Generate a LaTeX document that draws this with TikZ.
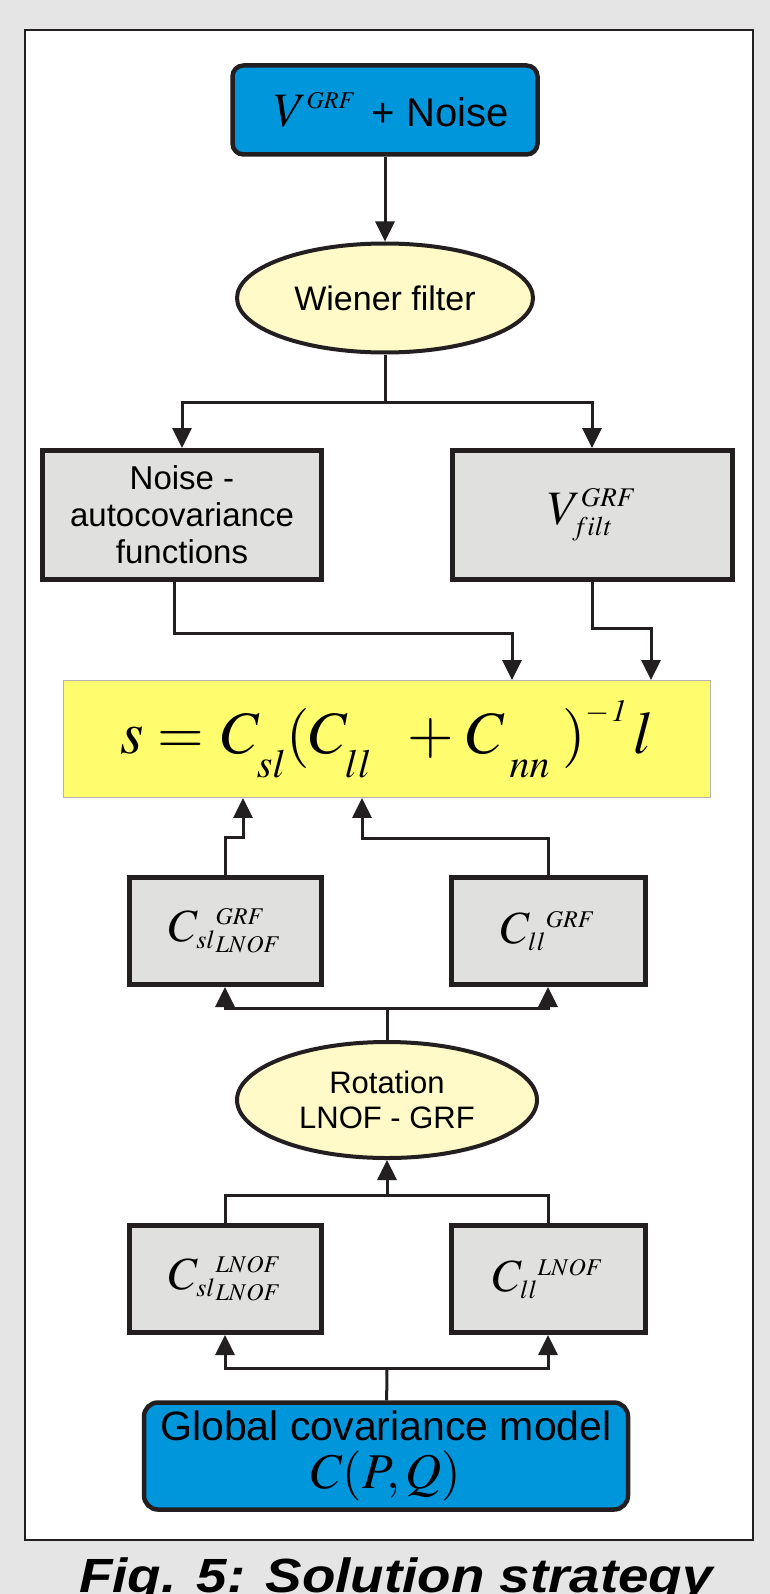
\documentclass[tikz,border=0pt]{standalone}
\usepackage{mathptmx}
\usepackage[no-math]{fontspec}
\setmainfont{Liberation Sans}
\usetikzlibrary{shapes.geometric,arrows.meta}

\definecolor{bggray}{RGB}{229,229,229}
\definecolor{boxblue}{RGB}{0,150,219}
\definecolor{ovalyellow}{RGB}{255,250,200}
\definecolor{boxgray}{RGB}{224,224,222}
\definecolor{eqyellow}{RGB}{255,253,110}
\definecolor{ink}{RGB}{35,31,32}

\newcommand{\fsz}[2]{\mbox{\fontsize{#1}{#1}\selectfont$#2$}}
\newcommand{\lowsub}[1]{\raisebox{-15pt}{\fsz{40}{#1}}}

\begin{document}
\begin{tikzpicture}[x=1pt,y=-1pt,
  inout/.style={draw=ink,line width=4.5pt,fill=boxblue,rounded corners=11pt,inner sep=0pt},
  oval/.style={ellipse,draw=ink,line width=4pt,fill=ovalyellow,inner sep=0pt,align=center},
  gbox/.style={draw=ink,line width=5pt,fill=boxgray,inner sep=0pt,minimum width=192pt,minimum height=107pt},
  link/.style={draw=ink,line width=3pt},
  >={Triangle[length=20pt,width=19pt]}]
\fill[bggray] (0,0) rectangle (770,1594);
\useasboundingbox (0,0) rectangle (770,1594);
\draw[ink,line width=2.5pt,fill=white] (25,30) rectangle (753,1540);

% top
\node[inout,minimum width=305pt,minimum height=89pt] (v_noise) at (385,110)
  {\hspace{12pt}{\fontsize{48}{48}\selectfont$V^{\fsz{24}{GRF}}$}\hspace{16pt}{\fontsize{40}{40}\selectfont + Noise}};
\node[oval,minimum width=296pt,minimum height=109pt,font=\fontsize{34}{34}\selectfont] (wiener) at (385,298) {Wiener filter};
\node[gbox,minimum width=279pt,minimum height=129pt,align=center,font=\fontsize{33}{37}\selectfont] (noise_acf) at (182,515)
  {Noise -\\autocovariance\\functions};
\node[gbox,minimum width=280pt,minimum height=129pt] (v_filt) at (592,515)
  {\fontsize{48}{48}\selectfont$V^{\fsz{27}{GRF}}_{\fsz{27}{filt}}$};
\node[draw=black!30,line width=0.8pt,fill=eqyellow,minimum width=647pt,minimum height=117pt,inner sep=0pt] (sol) at (387,739)
  {\fontsize{60}{60}\selectfont$s=\kern4pt C_{\lowsub{sl}}(C_{\lowsub{ll}}\kern27pt+\kern4pt C_{\kern8pt\lowsub{nn}}\kern12pt)^{\raisebox{10pt}{\fsz{31}{-\kern2pt\mathit{1}}}}\kern6pt l$};

% middle
\node[gbox] (csl_grf) at (225,931)
  {\fontsize{46}{46}\selectfont$C_{\fsz{26}{sl}}{}^{\fsz{24}{GRF}}_{\fsz{24}{LNOF}}$};
\node[gbox,minimum width=194pt] (cll_grf) at (548,931)
  {\fontsize{46}{46}\selectfont$C_{\fsz{26}{ll}}{}^{\fsz{24}{GRF}}$};
\node[oval,minimum width=300pt,minimum height=116pt,font=\fontsize{31}{35}\selectfont] (rot) at (387,1100) {Rotation\\LNOF - GRF};

% bottom
\node[gbox] (csl_lnof) at (225,1279)
  {\fontsize{46}{46}\selectfont$C_{\fsz{26}{sl}}{}^{\fsz{24}{LNOF}}_{\fsz{24}{LNOF}}$};
\node[gbox,minimum width=194pt] (cll_lnof) at (548,1279)
  {\fontsize{46}{46}\selectfont$C_{\fsz{26}{ll}}{}^{\fsz{24}{LNOF}}$};
\node[inout,rounded corners=14pt,minimum width=484pt,minimum height=107pt,align=center,font=\fontsize{41}{48}\selectfont] (gcm) at (386,1456)
  {Global covariance model\\{\fontsize{50}{48}\selectfont$C(P,Q)$}};

\node[anchor=base,xscale=1.14,font=\fontsize{48}{48}\selectfont\bfseries\itshape] (caption) at (396,1592) {Fig. 5: Solution strategy};

% connectors
\coordinate (split_a) at (385,402);
\coordinate (split_b) at (387,1008);
\coordinate (split_c) at (387,1195);
\coordinate (split_d) at (387,1368);
\path[link,->] (v_noise) -- (wiener);
\path[link] (wiener) -- (split_a);
\path[link,->] (split_a) -| (noise_acf);
\path[link,->] (split_a) -| (v_filt);
\path[link,->] ([xshift=-8pt]noise_acf.south) -- ++(0,51) -| ([xshift=125pt]sol.north);
\path[link,->] (v_filt.south) -- ++(0,46) -| ([xshift=264pt]sol.north);
\path[link,->] (csl_grf.north) -- ++(0,-38) -| ([xshift=-144pt]sol.south);
\path[link,->] (cll_grf.north) -- ++(0,-37) -| ([xshift=-25pt]sol.south);
\path[link] (rot) -- (split_b);
\path[link,->] (split_b) -| (csl_grf);
\path[link,->] (split_b) -| (cll_grf);
\path[link] (csl_lnof) |- (split_c) -| (cll_lnof);
\path[link,->] (split_c) -- (rot);
\path[link] (gcm) -- (split_d);
\path[link,->] (split_d) -| (csl_lnof);
\path[link,->] (split_d) -| (cll_lnof);
\end{tikzpicture}
\end{document}
